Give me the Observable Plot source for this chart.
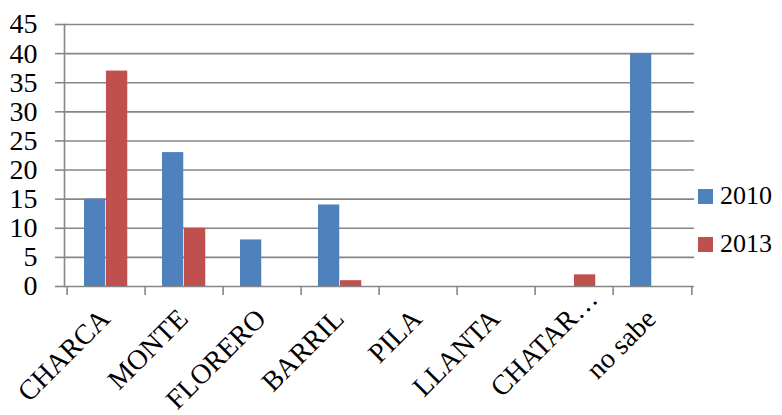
<!DOCTYPE html>
<html>
<head>
<meta charset="utf-8">
<script src="https://cdn.jsdelivr.net/npm/d3@7"></script>
<script src="https://cdn.jsdelivr.net/npm/@observablehq/plot@0.6"></script>
<style>
  html, body { margin: 0; padding: 0; background: #fff; }
  #wrap { position: relative; width: 782px; height: 415px; font-family: "Liberation Serif", "Times New Roman", serif; }
  #wrap svg { position: absolute; left: 0; top: 0; }
  #wrap svg, #wrap svg text { font-family: "Liberation Serif", "Times New Roman", serif !important; }
  .leg { position: absolute; left: 698px; display: flex; align-items: center; height: 30px; font-size: 26px; color: #000; }
  .leg .sw { width: 15px; height: 15px; margin-right: 7px; }
</style>
</head>
<body>
<div id="wrap"></div>
<script>
const categories = ["CHARCA", "MONTE", "FLORERO", "BARRIL", "PILA", "LLANTA", "CHATAR…", "no sabe"];
const series = ["2010", "2013"];
const values2010 = [15, 23, 8, 14, 0, 0, 0, 40];
const values2013 = [37, 10, 0, 1, 0, 0, 2, 0];
const yTicks = [0, 5, 10, 15, 20, 25, 30, 35, 40, 45];
const colors = ["#4F81BD", "#C0504D"];

const W = 782, H = 415;
const mL = 64, mR = 88, mT = 24, mB = 129;
const bw = (W - mL - mR) / categories.length;
const labelSize = 28;
const ell = labelSize * Math.SQRT1_2; // ellipsis advance, projected at 45°

const rows = [];
categories.forEach((c, i) => {
  rows.push({cat: c, year: series[0], v: values2010[i]});
  rows.push({cat: c, year: series[1], v: values2013[i]});
});
const r2010 = rows.filter(d => d.year === series[0] && d.v > 0);
const r2013 = rows.filter(d => d.year === series[1] && d.v > 0);
const fullLabels = categories.filter(c => !c.endsWith("…"));
const cutLabels = categories.filter(c => c.endsWith("…"));

const grid = "#868686";
const chart = Plot.plot({
  width: W, height: H,
  marginLeft: mL, marginRight: mR, marginTop: mT, marginBottom: mB,
  style: {fontFamily: "'Liberation Serif', 'Times New Roman', serif", color: "#000", background: "transparent"},
  x: {type: "band", domain: categories, padding: 0, label: null},
  y: {domain: [0, 45], label: null},
  marks: [
    Plot.gridY(yTicks, {stroke: grid, strokeOpacity: 1, strokeWidth: 1.6}),
    Plot.axisY(yTicks, {tickSize: 9, tickPadding: 18, stroke: grid, strokeOpacity: 1, strokeWidth: 1.6, fontSize: 28, label: null, tickFormat: d => d}),
    Plot.barY(r2010, {x: "cat", y: "v", fill: colors[0], insetLeft: 17, insetRight: bw - 39}),
    Plot.barY(r2013, {x: "cat", y: "v", fill: colors[1], insetLeft: 39, insetRight: bw - 61}),
    Plot.frame({anchor: "left", stroke: grid, strokeWidth: 1.6}),
    Plot.axisX(categories, {tickSize: 9, stroke: grid, strokeOpacity: 1, strokeWidth: 1.6, fill: "none", dx: -bw / 2, label: null}),
    Plot.axisX([categories[categories.length - 1]], {tickSize: 9, stroke: grid, strokeOpacity: 1, strokeWidth: 1.6, fill: "none", dx: bw / 2, label: null}),
    Plot.axisX(fullLabels, {tickSize: 0, tickPadding: 34, tickRotate: -45, textAnchor: "end", lineAnchor: "bottom", fontSize: labelSize, dx: 5, label: null}),
    Plot.axisX(cutLabels, {tickSize: 0, tickPadding: 34, tickRotate: -45, textAnchor: "end", lineAnchor: "bottom", fontSize: labelSize, dx: 5 + ell, dy: -ell, label: null})
  ]
});
const wrap = document.getElementById("wrap");
wrap.appendChild(chart);

const legTops = [181, 229];
series.forEach((s, i) => {
  const row = document.createElement("div");
  row.className = "leg";
  row.style.top = legTops[i] + "px";
  const sw = document.createElement("div");
  sw.className = "sw";
  sw.style.background = colors[i];
  row.appendChild(sw);
  const t = document.createElement("span");
  t.textContent = s;
  row.appendChild(t);
  wrap.appendChild(row);
});
</script>
</body>
</html>
